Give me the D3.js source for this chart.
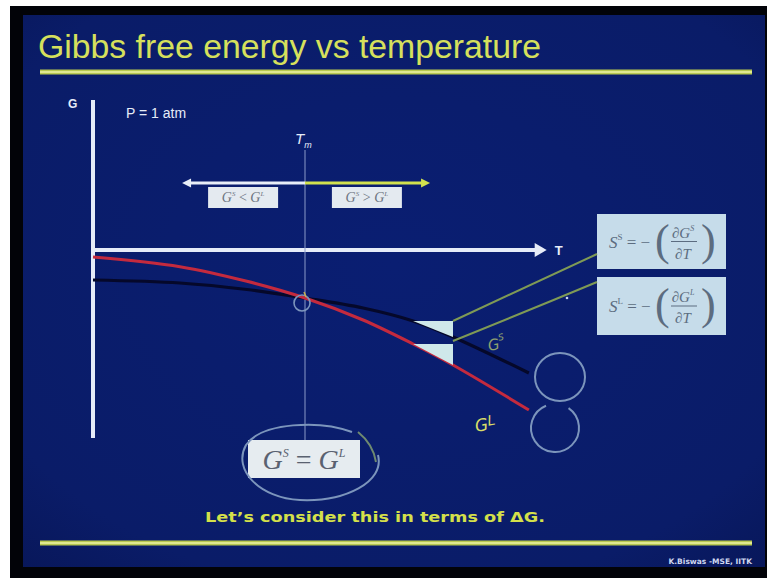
<!DOCTYPE html>
<html>
<head>
<meta charset="utf-8">
<script src="https://cdn.jsdelivr.net/npm/d3@7"></script>
<style>
  html, body { margin: 0; padding: 0; background: #fff; overflow: hidden; }
  svg { display: block; }
</style>
</head>
<body>
<script>
// ---- Slide text ----
const titleText = "Gibbs free energy vs temperature";
const pressureText = "P = 1 atm";
const footText = "Let\u2019s consider this in terms of \u0394G.";
const creditText = "K.Biswas -MSE, IITK";

// ---- Data: Gibbs free energy (arbitrary units) vs temperature (arbitrary units) ----
const meltT = 500;                                   // T_m, where the two curves cross
const temps   = [0, 205, 363, 500, 637, 755, 849, 1028];
const gSolid  = [-3.0, -3.3, -3.95, -4.8, -5.8, -7.1, -8.7, -12.3];
const gLiquid = [-0.7, -1.67, -3.13, -4.8, -7.0, -9.4, -11.5, -16.0];
const slopeFrom = 5, slopeTo = 6;                    // indices spanned by the slope triangles
const tAxisMax = 1070;
const gAxisRange = [15, -18.8];
const arrowRange = [210, 795];                       // T span of the stability arrow
const regionLabels = [{ t: 354, rel: "<" }, { t: 646, rel: ">" }];

const W = 767, H = 578;
const svg = d3.select("body").append("svg").attr("width", W).attr("height", H);

// frame and slide background
svg.append("rect").attr("x", 10).attr("y", 6).attr("width", W - 10).attr("height", H - 6).attr("fill", "#020308");
const defs = svg.append("defs");
const bg = defs.append("radialGradient").attr("id", "bg").attr("cx", "50%").attr("cy", "45%").attr("r", "75%");
bg.append("stop").attr("offset", "0%").attr("stop-color", "#0a1e72");
bg.append("stop").attr("offset", "80%").attr("stop-color", "#0a1c68");
bg.append("stop").attr("offset", "100%").attr("stop-color", "#08175a");
svg.append("rect").attr("x", 23).attr("y", 15).attr("width", 742).attr("height", 552).attr("fill", "url(#bg)");

// title and rules
svg.append("text").attr("x", 38).attr("y", 58).text(titleText)
  .attr("font-family", "Liberation Sans, Arial, sans-serif").attr("font-size", 33)
  .attr("textLength", 503).attr("lengthAdjust", "spacingAndGlyphs")
  .attr("fill", "#d6e05c");
[72, 543].forEach(yy => {
  svg.append("rect").attr("x", 40).attr("y", yy - 2.5).attr("width", 712).attr("height", 5)
    .attr("fill", "#b8c850");
  svg.append("rect").attr("x", 40).attr("y", yy - 1).attr("width", 712).attr("height", 2)
    .attr("fill", "#dfe890");
});

// ---- scales ----
const x = d3.scaleLinear().domain([0, meltT]).range([93, 305]);
const y = d3.scaleLinear().domain([0, -10]).range([250, 350]);

const axisColor = "#e6ecf8";
// G axis
svg.append("line").attr("x1", x(0)).attr("x2", x(0))
  .attr("y1", y(gAxisRange[0])).attr("y2", y(gAxisRange[1]))
  .attr("stroke", axisColor).attr("stroke-width", 4);
svg.append("text").attr("x", 68).attr("y", 108).text("G")
  .attr("font-family", "Liberation Sans, Arial, sans-serif").attr("font-weight", "bold")
  .attr("font-size", 12).attr("fill", axisColor);
svg.append("text").attr("x", 126).attr("y", 118).text(pressureText)
  .attr("font-family", "Liberation Sans, Arial, sans-serif")
  .attr("font-size", 14).attr("fill", axisColor);

// T axis with arrow head
svg.append("line").attr("x1", x(0)).attr("x2", x(tAxisMax) - 8)
  .attr("y1", y(0)).attr("y2", y(0))
  .attr("stroke", axisColor).attr("stroke-width", 4);
svg.append("path")
  .attr("d", `M${x(tAxisMax) - 12},${y(0) - 7}L${x(tAxisMax)},${y(0)}L${x(tAxisMax) - 12},${y(0) + 7}Z`)
  .attr("fill", axisColor);
svg.append("text").attr("x", x(tAxisMax) + 8).attr("y", y(0) + 5).text("T")
  .attr("font-family", "Liberation Sans, Arial, sans-serif").attr("font-weight", "bold")
  .attr("font-size", 13).attr("fill", axisColor);

// T_m marker line and label
svg.append("line").attr("x1", x(meltT)).attr("x2", x(meltT))
  .attr("y1", 150).attr("y2", 442)
  .attr("stroke", "#8a9ac8").attr("stroke-width", 1);
const tm = svg.append("text").attr("x", x(meltT) - 10).attr("y", 144)
  .attr("font-family", "Liberation Sans, Arial, sans-serif").attr("font-style", "italic")
  .attr("fill", axisColor);
tm.append("tspan").attr("font-size", 15).text("T");
tm.append("tspan").attr("font-size", 9).attr("dy", 4).text("m");

// stability arrow: white on the solid side, yellow on the liquid side
const ay = y(6.7);
svg.append("line").attr("x1", x(arrowRange[0]) + 6).attr("x2", x(meltT)).attr("y1", ay).attr("y2", ay)
  .attr("stroke", "#e8eef8").attr("stroke-width", 3);
svg.append("line").attr("x1", x(meltT)).attr("x2", x(arrowRange[1]) - 6).attr("y1", ay).attr("y2", ay)
  .attr("stroke", "#d2e24e").attr("stroke-width", 3);
svg.append("path").attr("d", `M${x(arrowRange[0])},${ay}l9,-4.5l0,9Z`).attr("fill", "#e8eef8");
svg.append("path").attr("d", `M${x(arrowRange[1])},${ay}l-9,-4.5l0,9Z`).attr("fill", "#d2e24e");

const serif = "Liberation Serif, Times New Roman, serif";
regionLabels.forEach(r => {
  const cx = x(r.t);
  svg.append("rect").attr("x", cx - 35).attr("y", ay + 4).attr("width", 70).attr("height", 21)
    .attr("fill", "#e4eaf0");
  const t = svg.append("text").attr("x", cx).attr("y", ay + 19).attr("text-anchor", "middle")
    .attr("font-family", serif).attr("font-style", "italic").attr("font-size", 14).attr("fill", "#6c7480");
  t.append("tspan").text("G");
  t.append("tspan").attr("font-size", 7).attr("dy", -6).text("S");
  t.append("tspan").attr("dy", 6).attr("font-style", "normal").text(` ${r.rel} `);
  t.append("tspan").text("G");
  t.append("tspan").attr("font-size", 7).attr("dy", -6).text("L");
});

// ---- G(T) curves ----
const line = d3.line().x(d => x(d[0])).y(d => y(d[1])).curve(d3.curveCatmullRom.alpha(0.5));
const solidPts = temps.map((t, i) => [t, gSolid[i]]);
const liquidPts = temps.map((t, i) => [t, gLiquid[i]]);
svg.append("path").attr("d", line(solidPts)).attr("fill", "none")
  .attr("stroke", "#05082a").attr("stroke-width", 3.2);
svg.append("path").attr("d", line(liquidPts)).attr("fill", "none")
  .attr("stroke", "#c42a3e").attr("stroke-width", 3);

// slope triangles (dG/dT) on each curve
[gSolid, gLiquid].forEach(g => {
  const x0 = x(temps[slopeFrom]), x1 = x(temps[slopeTo]);
  const y0 = y(g[slopeFrom]), y1 = y(g[slopeTo]);
  svg.append("path").attr("d", `M${x0},${y0}L${x1},${y0}L${x1},${y1}Z`).attr("fill", "#cfe8ea");
});

// entropy formula boxes
function formulaBox(bx, by, bw, bh, phase) {
  svg.append("rect").attr("x", bx).attr("y", by).attr("width", bw).attr("height", bh).attr("fill", "#c6dcea");
  const cy = by + bh / 2;
  const col = "#5c6c80";
  const s = svg.append("text").attr("x", bx + 12).attr("y", cy + 6)
    .attr("font-family", serif).attr("font-size", 17).attr("fill", col);
  s.append("tspan").attr("font-style", "italic").text("S");
  s.append("tspan").attr("font-size", 9).attr("dy", -8).text(phase);
  s.append("tspan").attr("dy", 8).text(" = \u2212");
  svg.append("text").attr("x", bx + 58).attr("y", cy + 13).text("(")
    .attr("font-family", serif).attr("font-size", 44).attr("fill", col).attr("font-weight", "lighter");
  svg.append("text").attr("x", bx + 104).attr("y", cy + 13).text(")")
    .attr("font-family", serif).attr("font-size", 44).attr("fill", col);
  const n = svg.append("text").attr("x", bx + 86).attr("y", cy - 4).attr("text-anchor", "middle")
    .attr("font-family", serif).attr("font-style", "italic").attr("font-size", 15).attr("fill", col);
  n.append("tspan").text("\u2202G");
  n.append("tspan").attr("font-size", 8).attr("dy", -7).text(phase);
  svg.append("line").attr("x1", bx + 74).attr("x2", bx + 100).attr("y1", cy).attr("y2", cy)
    .attr("stroke", col).attr("stroke-width", 1);
  svg.append("text").attr("x", bx + 86).attr("y", cy + 17).attr("text-anchor", "middle")
    .attr("font-family", serif).attr("font-style", "italic").attr("font-size", 15).attr("fill", col)
    .text("\u2202T");
}
formulaBox(597, 214, 129, 55, "S");
formulaBox(597, 277, 129, 58, "L");

// equality box at the melting point
svg.append("rect").attr("x", 248).attr("y", 440).attr("width", 112).attr("height", 38).attr("fill", "#e6ecf0");
const eq = svg.append("text").attr("x", 304).attr("y", 469).attr("text-anchor", "middle")
  .attr("font-family", serif).attr("font-style", "italic").attr("font-size", 28).attr("fill", "#5a6270");
eq.append("tspan").text("G");
eq.append("tspan").attr("font-size", 12).attr("dy", -12).text("S");
eq.append("tspan").attr("dy", 12).attr("font-style", "normal").text(" = ");
eq.append("tspan").text("G");
eq.append("tspan").attr("font-size", 12).attr("dy", -12).text("L");

// ---- pen annotations ----
const pen = "#7c95bc";
const green = "#7f9a55";
const tri = [x(temps[slopeTo]), y(gSolid[slopeFrom])];
const triL = [x(temps[slopeTo]), y(gSolid[slopeTo])];
svg.append("path").attr("d", `M${tri[0]},${tri[1]}Q${520},${290} ${597},${254}`)
  .attr("fill", "none").attr("stroke", green).attr("stroke-width", 2);
svg.append("path").attr("d", `M${triL[0]},${triL[1] + 4}Q${525},${312} ${597},${282}`)
  .attr("fill", "none").attr("stroke", green).attr("stroke-width", 2);
svg.append("circle").attr("cx", 567).attr("cy", 298).attr("r", 1.3).attr("fill", "#c8d4f0");

// circle at the crossing point
svg.append("circle").attr("cx", x(meltT) - 3).attr("cy", y(-4.8) + 5).attr("r", 8)
  .attr("fill", "none").attr("stroke", pen).attr("stroke-width", 1.6);
svg.append("path").attr("d", `M${x(meltT) - 1},${y(-4.8) - 6}l2,5`).attr("stroke", "#c8b050").attr("stroke-width", 1.5);

// circles at the curve ends
svg.append("ellipse").attr("cx", 560).attr("cy", 377).attr("rx", 25).attr("ry", 24)
  .attr("fill", "none").attr("stroke", pen).attr("stroke-width", 2);
svg.append("path").attr("d", d3.arc()({ innerRadius: 24, outerRadius: 24, startAngle: 0.6, endAngle: 5.9 }))
  .attr("transform", "translate(555,428)").attr("fill", "none").attr("stroke", pen).attr("stroke-width", 2);

// ellipse around the equality box
svg.append("path")
  .attr("d", "M352,432 C 320,420 262,422 246,445 C 232,470 260,498 300,500 C 345,502 385,482 378,455")
  .attr("fill", "none").attr("stroke", pen).attr("stroke-width", 2);
svg.append("path").attr("d", "M358,432 C 368,440 374,450 376,462")
  .attr("fill", "none").attr("stroke", "#6f8a70").attr("stroke-width", 2);

// handwritten curve labels
const hw = svg.append("g").attr("font-family", "DejaVu Sans, sans-serif").attr("font-style", "italic");
const gs = hw.append("text").attr("x", 489).attr("y", 351).attr("fill", "#8fa070").attr("font-size", 15)
  .attr("transform", "rotate(-12,489,351)");
gs.append("tspan").text("G");
gs.append("tspan").attr("font-size", 9).attr("dy", -8).text("S");
const gl = hw.append("text").attr("x", 476).attr("y", 432).attr("fill", "#d8dc68").attr("font-size", 17)
  .attr("transform", "rotate(-10,476,432)");
gl.append("tspan").text("G");
gl.append("tspan").attr("font-size", 14).attr("dy", -4).text("L");

// footer
svg.append("text").attr("x", 205).attr("y", 522).text(footText)
  .attr("font-family", "DejaVu Sans, Verdana, sans-serif").attr("font-weight", "bold")
  .attr("font-size", 14.5).attr("textLength", 340).attr("lengthAdjust", "spacingAndGlyphs")
  .attr("fill", "#d4e04a");
svg.append("text").attr("x", 752).attr("y", 564).attr("text-anchor", "end").text(creditText)
  .attr("font-family", "DejaVu Sans, sans-serif").attr("font-weight", "bold")
  .attr("font-size", 7.5).attr("fill", "#d0d8f0");
</script>
</body>
</html>
